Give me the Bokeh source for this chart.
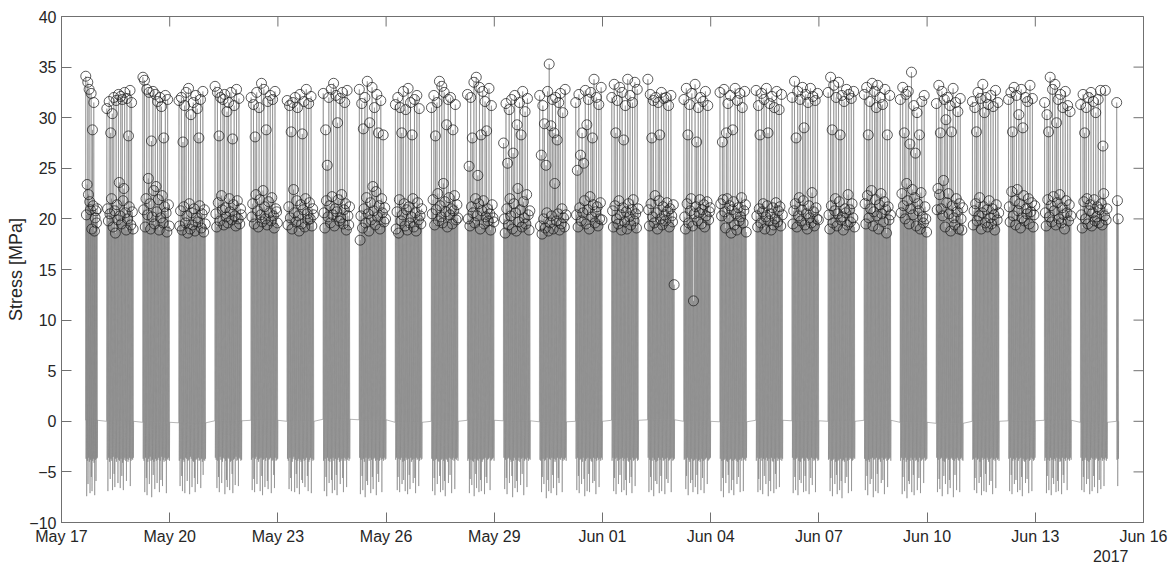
import math
import pandas as pd
from bokeh.plotting import figure
from bokeh.models import ColumnDataSource, FixedTicker, Range1d, Title, DatetimeTickFormatter
from bokeh.embed import file_html
from bokeh.resources import INLINE

# ---------------- data ----------------
DAYS = ["2017-05-17", "2017-05-18", "2017-05-19", "2017-05-20", "2017-05-21", "2017-05-22",
        "2017-05-23", "2017-05-24", "2017-05-25", "2017-05-26", "2017-05-27", "2017-05-28",
        "2017-05-29", "2017-05-30", "2017-05-31", "2017-06-01", "2017-06-02", "2017-06-03",
        "2017-06-04", "2017-06-05", "2017-06-06", "2017-06-07", "2017-06-08", "2017-06-09",
        "2017-06-10", "2017-06-11", "2017-06-12", "2017-06-13", "2017-06-14", "2017-06-15"]
START_H = [16.0, 6.0, 6.0, 6.0, 6.0, 6.0, 6.0, 6.0, 6.0, 6.0, 6.0, 6.0, 6.0, 6.0, 6.0,
           6.0, 6.0, 6.0, 6.0, 6.0, 6.0, 6.0, 6.0, 6.0, 6.0, 6.0, 6.0, 6.0, 6.0, 6.0]
END_H = [24.0, 24.0, 24.0, 24.0, 24.0, 24.0, 24.0, 24.0, 24.0, 24.0, 24.0, 24.0, 24.0, 24.0, 24.0,
         24.0, 24.0, 24.0, 24.0, 24.0, 24.0, 24.0, 24.0, 24.0, 24.0, 24.0, 24.0, 24.0, 24.0, 7.5]
REST = [0.1, 0.0, -0.1, -0.15, 0.05, 0.1, 0.0, 0.2, 0.15, -0.1, 0.0, 0.1, 0.05, -0.05, 0.0,
        0.1, 0.15, 0.0, -0.05, 0.1, 0.05, 0.0, 0.1, -0.1, -0.2, 0.0, 0.05, 0.1, -0.1, 0.0]

PEAKS = [
    [34.1, 20.4, 23.4, 33.5, 22.4, 32.8, 21.7, 20.9, 32.4, 19.0, 28.8, 21.3, 31.5, 18.8, 20.1, 20.8, 19.6, 21.0],
    [30.9, 21.0, 19.8, 31.6, 20.5, 28.5, 22.0, 30.4, 19.2, 32.0, 20.8, 18.6, 31.7, 21.4, 19.9, 32.3, 23.6, 20.3, 32.1, 19.5, 31.8, 21.8, 23.0, 32.5, 20.6, 18.9, 31.9, 20.0, 28.2, 21.2, 32.7, 19.4, 31.5, 20.7, 19.0],
    [34.0, 20.9, 33.7, 19.2, 22.0, 32.8, 20.4, 24.0, 32.5, 21.5, 19.0, 27.7, 20.2, 32.6, 22.8, 19.5, 32.3, 23.2, 20.7, 31.6, 21.9, 18.9, 32.0, 20.1, 31.1, 22.3, 19.6, 28.0, 21.2, 32.2, 20.6, 18.7, 31.8, 21.4, 19.3],
    [31.7, 19.3, 20.8, 32.0, 18.9, 27.6, 21.2, 31.2, 19.6, 32.5, 20.3, 18.6, 32.9, 21.5, 19.0, 30.3, 20.6, 19.4, 31.5, 21.0, 18.8, 32.2, 20.1, 30.9, 19.7, 28.0, 21.3, 31.8, 19.1, 20.5, 32.6, 18.7, 20.9, 19.5],
    [33.1, 20.5, 19.2, 32.5, 21.6, 28.2, 19.8, 32.0, 22.3, 20.9, 31.8, 19.4, 32.3, 21.1, 20.2, 30.6, 19.6, 31.5, 22.0, 20.7, 32.5, 19.9, 27.9, 21.4, 31.2, 20.3, 19.3, 32.8, 21.8, 20.0, 31.9, 19.5, 21.0, 20.4],
    [32.0, 20.2, 21.5, 31.3, 19.5, 28.1, 22.4, 32.5, 20.8, 19.2, 31.0, 21.9, 20.4, 33.4, 19.7, 22.8, 32.8, 21.2, 20.0, 28.8, 19.4, 31.6, 21.7, 20.6, 32.2, 19.8, 22.1, 31.8, 20.3, 19.1, 32.6, 21.0, 20.7, 19.6],
    [31.7, 19.4, 21.2, 31.2, 20.1, 28.6, 19.0, 31.5, 22.9, 20.6, 32.0, 19.7, 21.8, 31.0, 20.3, 18.8, 32.3, 21.4, 19.5, 28.4, 20.9, 31.6, 19.2, 22.0, 32.8, 20.5, 19.9, 31.4, 21.6, 20.0, 32.1, 19.3, 21.0, 20.4],
    [32.4, 20.6, 19.1, 28.8, 21.8, 25.3, 20.2, 32.0, 21.3, 19.6, 32.8, 22.2, 20.4, 33.4, 19.3, 21.0, 32.2, 20.7, 29.5, 21.9, 19.8, 31.9, 20.1, 22.4, 32.5, 19.5, 20.9, 31.5, 21.5, 18.9, 32.7, 20.3, 19.4, 21.2],
    [32.8, 17.9, 20.3, 31.4, 19.1, 28.9, 21.0, 32.0, 19.6, 22.1, 33.6, 20.5, 18.8, 29.5, 21.6, 19.9, 33.0, 23.2, 20.8, 31.0, 19.4, 22.7, 32.3, 20.2, 28.5, 21.3, 19.0, 31.7, 22.0, 20.6, 28.3, 19.7, 21.1, 20.0],
    [31.3, 19.0, 20.7, 32.0, 18.6, 21.9, 31.0, 19.8, 28.5, 20.4, 32.6, 21.5, 19.3, 30.8, 20.9, 18.9, 32.9, 21.2, 19.6, 31.5, 20.2, 28.3, 22.0, 19.2, 31.8, 20.6, 18.8, 32.2, 21.6, 19.9, 30.9, 20.3, 19.5, 21.0],
    [31.0, 20.5, 21.9, 32.2, 19.4, 28.2, 20.9, 31.5, 22.5, 19.8, 33.6, 21.3, 20.2, 33.1, 19.6, 23.5, 32.5, 21.7, 20.7, 29.3, 19.2, 31.8, 22.1, 20.4, 32.0, 21.0, 19.5, 28.8, 20.8, 22.3, 31.3, 19.9, 21.4, 20.1],
    [32.3, 20.0, 25.2, 19.3, 32.0, 21.2, 28.0, 20.6, 33.5, 19.6, 22.0, 34.0, 20.3, 24.3, 21.5, 33.0, 19.0, 28.3, 20.8, 32.6, 21.8, 19.5, 31.6, 20.2, 28.7, 21.0, 19.8, 32.9, 20.5, 18.9, 31.2, 21.4, 20.1, 19.7],
    [27.5, 20.0, 18.6, 31.4, 21.0, 25.5, 19.4, 30.8, 22.0, 20.3, 31.8, 19.0, 26.5, 21.5, 32.2, 20.6, 18.8, 29.3, 23.0, 19.7, 31.5, 20.9, 28.3, 19.2, 32.6, 21.7, 20.1, 30.6, 19.5, 22.4, 31.9, 20.4, 18.9, 20.8],
    [32.2, 19.3, 26.3, 18.5, 31.2, 20.0, 29.4, 19.1, 25.3, 20.6, 32.6, 18.8, 35.3, 19.6, 29.2, 20.3, 31.8, 19.0, 28.5, 23.5, 32.0, 19.8, 27.8, 20.5, 31.5, 18.9, 32.4, 19.5, 21.0, 30.5, 20.1, 19.2, 32.8, 20.4],
    [31.5, 20.4, 24.8, 19.2, 32.3, 21.1, 26.3, 19.8, 28.5, 20.6, 25.5, 21.8, 32.7, 19.5, 29.3, 20.9, 31.8, 19.0, 22.2, 32.5, 20.2, 28.0, 21.4, 33.8, 19.6, 20.7, 32.0, 21.2, 19.3, 31.3, 20.0, 21.6, 33.0, 19.9],
    [32.0, 20.8, 19.2, 33.3, 21.3, 28.5, 20.0, 31.7, 19.5, 21.8, 33.0, 20.4, 18.9, 32.5, 21.1, 27.8, 19.7, 31.2, 20.7, 19.0, 33.8, 21.5, 20.2, 32.2, 19.4, 20.9, 31.5, 21.9, 19.8, 33.5, 20.5, 19.1, 32.8, 21.0],
    [33.8, 20.9, 19.3, 32.3, 21.5, 28.0, 20.2, 31.7, 19.6, 22.3, 32.0, 20.6, 19.0, 31.5, 21.8, 28.3, 20.0, 32.5, 19.4, 21.2, 31.9, 20.4, 19.8, 32.0, 21.6, 20.8, 31.2, 19.2, 21.0, 32.2, 20.3, 19.7, 21.4, 13.5],
    [31.8, 20.2, 19.0, 32.9, 21.5, 28.3, 19.6, 31.3, 20.8, 22.0, 32.4, 19.3, 11.9, 20.5, 33.3, 21.2, 27.6, 19.8, 31.0, 20.6, 21.9, 32.0, 19.5, 20.9, 31.6, 21.4, 19.2, 32.6, 20.3, 21.7, 31.2, 19.9, 20.7, 21.1],
    [32.5, 21.5, 20.3, 27.6, 21.9, 32.8, 20.7, 19.1, 28.5, 22.0, 31.4, 20.1, 21.3, 32.2, 18.6, 20.9, 28.8, 21.7, 19.4, 32.9, 20.5, 18.9, 31.7, 21.1, 19.8, 32.4, 20.2, 22.1, 31.0, 19.6, 20.8, 32.6, 21.4, 18.7],
    [32.7, 20.3, 19.2, 31.2, 21.0, 28.3, 19.6, 32.4, 20.7, 21.5, 31.8, 19.0, 20.2, 32.9, 21.3, 28.5, 19.8, 31.4, 20.5, 18.9, 32.1, 21.1, 19.4, 31.0, 20.0, 21.6, 32.6, 19.7, 20.8, 30.8, 21.2, 19.3, 32.3, 20.4],
    [32.0, 19.5, 20.8, 33.6, 21.5, 28.0, 19.2, 32.6, 20.3, 22.1, 31.8, 19.8, 20.9, 33.0, 21.8, 29.0, 19.4, 32.3, 20.5, 19.0, 31.5, 21.3, 20.1, 32.9, 19.6, 22.6, 32.1, 20.7, 19.3, 31.7, 21.1, 20.0, 32.4, 19.9],
    [32.5, 20.4, 19.0, 34.0, 21.3, 28.8, 19.6, 33.2, 20.8, 22.0, 32.0, 19.3, 20.5, 33.5, 21.7, 28.3, 19.9, 32.2, 20.2, 18.9, 31.6, 21.0, 20.6, 32.8, 19.4, 22.4, 32.3, 20.9, 19.7, 31.9, 21.5, 20.1, 32.6, 19.2],
    [32.3, 21.5, 19.5, 33.0, 22.3, 28.3, 20.1, 31.6, 21.0, 22.8, 33.4, 19.3, 20.7, 32.6, 21.9, 31.0, 20.3, 33.2, 19.0, 21.4, 32.0, 22.5, 20.5, 31.3, 19.7, 21.7, 32.8, 20.9, 18.6, 28.3, 21.2, 19.9, 32.2, 20.4],
    [31.8, 20.6, 22.5, 33.0, 21.3, 28.5, 20.0, 32.3, 23.5, 21.8, 32.6, 19.5, 27.4, 21.0, 34.5, 22.9, 20.4, 31.2, 22.1, 26.5, 19.3, 30.5, 21.5, 20.8, 28.3, 19.0, 22.6, 31.6, 20.2, 19.6, 32.2, 21.2, 20.0, 18.7],
    [31.4, 20.9, 23.0, 33.2, 22.4, 28.5, 21.0, 32.6, 20.3, 23.8, 31.8, 19.2, 29.8, 21.6, 32.0, 22.5, 20.5, 31.2, 18.8, 28.6, 21.3, 32.9, 20.1, 19.4, 31.5, 22.0, 20.7, 30.6, 19.0, 21.5, 31.9, 20.0, 18.9, 21.1],
    [31.6, 19.4, 20.8, 31.0, 21.5, 28.6, 19.8, 32.5, 20.3, 22.1, 31.9, 19.0, 20.6, 33.3, 21.2, 30.5, 19.6, 32.0, 20.9, 19.2, 31.3, 21.8, 20.1, 32.2, 19.5, 21.0, 31.1, 20.4, 18.9, 32.7, 21.4, 19.9, 31.5, 20.6],
    [31.8, 21.2, 19.7, 32.5, 22.7, 28.6, 20.3, 33.0, 21.8, 19.4, 32.2, 22.9, 20.8, 30.3, 21.5, 19.1, 32.8, 20.1, 29.0, 22.3, 19.8, 32.0, 21.0, 20.5, 31.6, 22.0, 19.5, 33.2, 20.7, 21.6, 31.9, 19.2, 20.4, 21.3],
    [31.5, 20.6, 19.3, 30.3, 21.9, 28.6, 20.2, 34.0, 21.3, 19.7, 32.8, 22.2, 20.8, 33.3, 19.4, 29.5, 21.6, 31.8, 20.0, 22.4, 32.3, 19.6, 21.1, 31.0, 20.4, 19.0, 32.6, 21.8, 20.6, 31.2, 19.8, 21.4, 30.6, 20.3],
    [31.3, 20.4, 19.1, 32.3, 21.7, 28.5, 20.0, 31.0, 22.0, 19.5, 32.0, 20.8, 21.4, 32.5, 19.3, 20.6, 31.6, 21.9, 19.8, 30.5, 20.2, 21.2, 31.8, 19.6, 20.9, 32.7, 21.5, 19.4, 27.2, 22.5, 20.3, 32.7, 19.9, 21.0],
    [31.5, 21.8, 20.0],
]

TROUGHS = [
    "-3.7 -7.4 -3.9 -6.2 -3.6 -4.0 -7.1 -3.8 -5.5 -6.9 -3.9 -3.7 -4.1 -7.3 -3.8 -5.9 -3.7 -3.6",
    "-3.8 -6.9 -3.6 -4.0 -5.7 -3.7 -3.9 -6.8 -3.5 -5.2 -6.5 -3.7 -4.0 -3.6 -6.1 -3.8 -3.9 -6.6 -3.7 -5.4 -4.1 -6.8 -3.8 -3.6 -3.9 -5.9 -3.7 -4.0 -3.8 -3.6 -6.4 -3.9 -3.7 -3.8 -3.6 -3.9",
    "-3.7 -3.9 -7.0 -3.6 -5.6 -7.3 -4.0 -3.7 -6.2 -3.5 -3.9 -7.5 -3.8 -5.3 -4.0 -6.7 -3.7 -3.9 -6.1 -3.8 -3.6 -7.0 -3.9 -5.8 -3.5 -6.4 -3.8 -4.0 -3.6 -3.9 -7.1 -3.7 -3.8 -3.6 -3.9 -3.7",
    "-3.9 -6.4 -3.7 -5.4 -6.9 -3.8 -4.0 -7.1 -3.6 -3.7 -5.9 -3.9 -3.8 -7.2 -3.5 -3.7 -6.5 -3.9 -4.0 -5.6 -7.0 -3.8 -3.7 -6.2 -3.6 -3.9 -3.8 -6.6 -3.7 -4.0 -5.3 -3.8 -3.9 -3.7 -3.6 -3.8",
    "-3.6 -3.8 -6.6 -3.9 -5.5 -7.0 -3.5 -3.8 -6.1 -4.0 -3.6 -3.7 -7.2 -3.9 -5.8 -6.5 -3.6 -3.7 -6.8 -4.0 -3.9 -5.2 -7.1 -3.8 -3.7 -6.3 -3.5 -3.9 -3.8 -6.4 -3.6 -3.7 -3.9 -3.8 -3.6 -3.7",
    "-3.8 -6.8 -3.6 -5.7 -7.0 -3.7 -3.5 -6.2 -3.8 -4.0 -3.7 -6.9 -3.6 -5.4 -7.3 -3.8 -3.7 -6.5 -3.9 -3.6 -5.9 -6.7 -3.8 -3.7 -3.6 -7.1 -3.9 -3.8 -5.3 -6.6 -3.6 -3.9 -3.8 -3.7 -3.6 -3.8",
    "-3.7 -3.9 -6.7 -3.6 -5.6 -6.9 -4.0 -3.7 -3.5 -7.0 -3.8 -5.2 -6.6 -3.9 -3.7 -7.2 -3.8 -4.0 -5.8 -6.1 -3.7 -3.9 -6.5 -3.8 -3.6 -5.4 -6.9 -4.0 -3.8 -3.6 -7.1 -3.7 -3.9 -3.8 -3.6 -3.7",
    "-3.9 -6.9 -3.7 -5.5 -7.4 -3.6 -3.9 -6.1 -4.0 -3.7 -5.8 -7.1 -3.6 -3.9 -6.8 -3.7 -5.3 -7.3 -3.8 -3.6 -4.0 -6.2 -3.9 -3.7 -5.6 -7.0 -3.6 -3.9 -3.7 -6.5 -3.8 -3.6 -3.9 -3.7 -3.8 -3.6",
    "-3.6 -7.2 -3.8 -5.4 -6.8 -3.7 -4.0 -7.5 -3.6 -5.9 -6.3 -3.7 -3.9 -3.6 -7.1 -3.8 -5.5 -6.7 -3.7 -3.6 -3.9 -7.3 -3.8 -5.2 -6.0 -3.9 -3.6 -3.8 -7.0 -3.7 -3.9 -3.6 -3.8 -3.7 -3.9 -3.6",
    "-3.8 -3.6 -6.8 -5.5 -3.7 -7.0 -3.8 -3.6 -6.2 -4.0 -5.8 -3.9 -6.9 -3.6 -3.8 -7.2 -3.7 -5.3 -6.7 -3.6 -4.0 -3.8 -6.1 -3.7 -5.6 -7.1 -3.6 -3.8 -3.7 -6.4 -3.9 -3.6 -3.8 -3.7 -3.6 -3.9",
    "-3.7 -6.9 -3.9 -5.6 -7.3 -3.8 -3.7 -6.2 -3.9 -4.0 -5.4 -7.0 -3.8 -3.7 -6.8 -3.9 -5.9 -7.4 -3.7 -3.8 -4.0 -6.1 -3.6 -5.3 -3.7 -7.1 -3.8 -3.6 -3.9 -6.7 -3.7 -3.8 -3.6 -3.9 -3.7 -3.8",
    "-3.9 -3.7 -7.1 -5.7 -3.8 -6.3 -3.9 -4.0 -7.4 -3.7 -5.2 -6.6 -3.8 -3.9 -7.0 -3.7 -5.8 -6.9 -4.0 -3.8 -3.7 -7.2 -3.6 -5.5 -6.1 -3.8 -3.7 -3.6 -6.8 -3.9 -3.8 -3.7 -3.6 -3.9 -3.8 -3.7",
    "-3.6 -6.7 -3.8 -5.6 -7.2 -3.7 -3.6 -6.1 -3.8 -4.0 -5.4 -7.5 -3.9 -3.6 -6.6 -3.8 -5.9 -7.0 -3.9 -3.6 -4.0 -6.3 -3.7 -5.2 -3.6 -7.3 -3.9 -3.7 -3.8 -6.5 -3.6 -3.9 -3.7 -3.8 -3.6 -3.9",
    "-3.8 -3.9 -7.0 -5.5 -3.7 -6.2 -3.9 -3.8 -7.6 -3.6 -5.8 -6.9 -3.7 -3.8 -7.1 -3.6 -5.3 -6.6 -3.7 -4.0 -3.8 -7.3 -3.6 -5.6 -6.1 -3.7 -3.8 -3.6 -7.0 -3.9 -3.7 -3.8 -3.6 -3.9 -3.7 -3.8",
    "-3.7 -6.8 -3.6 -5.4 -7.1 -3.8 -3.7 -6.2 -4.0 -3.6 -5.7 -7.4 -3.9 -3.7 -6.9 -3.6 -5.2 -7.0 -3.7 -3.9 -4.0 -6.1 -3.6 -5.9 -3.7 -7.2 -3.9 -3.6 -3.8 -6.5 -3.7 -3.9 -3.6 -3.8 -3.7 -3.6",
    "-3.9 -3.6 -6.9 -5.6 -3.7 -7.2 -3.6 -3.9 -6.2 -3.8 -5.3 -3.7 -7.0 -3.6 -3.9 -6.8 -3.7 -5.8 -7.3 -3.6 -3.9 -4.0 -6.1 -3.8 -5.5 -7.1 -3.6 -3.9 -3.8 -6.4 -3.7 -3.6 -3.9 -3.8 -3.7 -3.6",
    "-3.6 -7.0 -3.8 -5.5 -6.8 -3.9 -3.6 -7.4 -3.8 -5.9 -4.0 -6.2 -3.9 -3.6 -7.1 -3.8 -5.4 -6.9 -3.6 -3.9 -3.8 -7.2 -3.7 -5.7 -3.6 -6.1 -3.9 -3.8 -3.7 -7.0 -3.6 -3.9 -3.8 -3.7 -3.6 -3.8",
    "-3.8 -3.7 -6.7 -5.4 -3.6 -7.3 -3.8 -4.0 -6.1 -3.7 -5.8 -7.0 -3.9 -3.8 -6.5 -3.7 -5.3 -7.2 -3.9 -3.8 -4.0 -6.8 -3.7 -5.6 -3.9 -7.1 -3.8 -3.7 -3.6 -6.2 -3.9 -3.8 -3.7 -3.6 -3.9 -3.7",
    "-3.7 -6.9 -3.9 -5.6 -7.5 -3.8 -3.7 -6.1 -3.9 -4.0 -5.3 -7.1 -3.8 -3.7 -6.8 -3.9 -5.8 -7.3 -3.8 -3.7 -3.9 -6.2 -4.0 -5.5 -3.8 -7.0 -3.7 -3.9 -3.6 -6.9 -3.8 -3.7 -3.9 -3.6 -3.8 -3.7",
    "-3.9 -3.6 -7.0 -5.7 -3.7 -6.8 -3.6 -3.9 -7.2 -3.7 -5.4 -3.8 -6.2 -3.6 -3.9 -7.4 -3.7 -5.9 -6.9 -3.6 -3.9 -4.0 -7.1 -3.7 -5.2 -6.7 -3.6 -3.9 -3.7 -6.5 -3.8 -3.6 -3.9 -3.7 -3.8 -3.6",
    "-3.6 -7.1 -3.8 -5.5 -6.8 -3.7 -3.6 -7.3 -3.9 -5.8 -4.0 -6.1 -3.7 -3.6 -7.0 -3.9 -5.4 -6.9 -3.6 -3.7 -3.9 -7.2 -3.8 -5.6 -3.6 -6.3 -3.7 -3.9 -3.8 -7.0 -3.6 -3.7 -3.9 -3.8 -3.6 -3.7",
    "-3.8 -3.7 -6.9 -5.6 -3.9 -7.4 -3.8 -3.7 -6.2 -4.0 -5.3 -7.2 -3.9 -3.8 -6.8 -3.7 -5.9 -7.6 -3.9 -3.8 -4.0 -6.1 -3.6 -5.5 -3.9 -7.1 -3.8 -3.6 -3.7 -6.9 -3.9 -3.8 -3.6 -3.7 -3.9 -3.8",
    "-3.7 -6.8 -3.9 -5.4 -7.3 -3.8 -4.0 -6.2 -3.7 -5.7 -3.6 -7.5 -3.8 -3.7 -6.9 -3.6 -5.2 -7.1 -3.8 -3.7 -4.0 -6.1 -3.6 -5.8 -3.8 -7.2 -3.7 -3.6 -3.9 -6.5 -3.8 -3.7 -3.6 -3.9 -3.8 -3.7",
    "-3.9 -3.6 -7.2 -5.5 -3.8 -6.9 -3.6 -4.0 -7.6 -3.8 -5.9 -6.2 -3.9 -3.6 -7.0 -3.8 -5.3 -7.3 -3.6 -3.9 -3.8 -6.8 -4.0 -5.6 -3.6 -7.1 -3.9 -3.8 -3.7 -6.1 -3.6 -3.9 -3.8 -3.7 -3.6 -3.9",
    "-3.6 -7.0 -3.8 -5.7 -6.7 -3.7 -3.6 -7.4 -3.9 -5.4 -4.0 -6.2 -3.7 -3.6 -7.2 -3.8 -5.8 -6.6 -3.7 -3.6 -3.8 -7.5 -3.9 -5.3 -3.7 -6.8 -3.6 -3.8 -3.9 -7.0 -3.7 -3.6 -3.8 -3.9 -3.7 -3.6",
    "-3.8 -3.7 -6.8 -5.6 -3.6 -7.1 -3.8 -3.7 -6.1 -4.0 -5.5 -7.3 -3.6 -3.8 -6.9 -3.7 -5.2 -7.0 -3.6 -3.8 -4.0 -6.3 -3.7 -5.9 -3.6 -7.2 -3.8 -3.7 -3.9 -6.6 -3.6 -3.8 -3.7 -3.9 -3.6 -3.8",
    "-3.7 -6.9 -3.6 -5.3 -7.2 -3.9 -3.7 -6.2 -3.8 -5.8 -3.6 -7.0 -3.9 -3.7 -6.8 -3.6 -5.5 -7.4 -3.7 -3.9 -4.0 -6.1 -3.8 -5.7 -3.7 -7.1 -3.9 -3.8 -3.6 -6.9 -3.7 -3.9 -3.8 -3.6 -3.7 -3.9",
    "-3.9 -3.6 -7.1 -5.4 -3.8 -6.8 -3.9 -3.6 -7.3 -3.8 -5.6 -6.2 -3.7 -3.9 -7.0 -3.6 -5.9 -6.9 -3.7 -4.0 -3.9 -7.2 -3.6 -5.3 -6.1 -3.7 -3.9 -3.6 -6.8 -3.8 -3.7 -3.9 -3.6 -3.8 -3.7 -3.9",
    "-3.6 -6.8 -3.9 -5.5 -7.0 -3.8 -3.6 -6.2 -3.9 -5.7 -4.0 -7.2 -3.8 -3.6 -6.9 -3.7 -5.4 -6.5 -3.8 -3.6 -3.7 -7.1 -3.9 -5.8 -3.8 -6.7 -3.6 -3.9 -3.7 -6.4 -3.8 -3.6 -3.9 -3.7 -3.8 -3.6",
    "-3.8 -6.4 -3.7",
]

X_TICKS = ["2017-05-17", "2017-05-20", "2017-05-23", "2017-05-26", "2017-05-29", "2017-06-01",
           "2017-06-04", "2017-06-07", "2017-06-10", "2017-06-13", "2017-06-16"]
Y_TICKS = [-10, -5, 0, 5, 10, 15, 20, 25, 30, 35, 40]
Y_RANGE = (-10, 40)
YEAR_LABEL = "2017"


def ms(ts):
    return pd.Timestamp(ts).value / 1e6


# ---------------- build the stress trace ----------------
t_line, v_line, t_pk, v_pk = [], [], [], []
for d, day in enumerate(DAYS):
    base = pd.Timestamp(day)
    peaks = PEAKS[d]
    troughs = [float(s) for s in TROUGHS[d].split()]
    n = len(peaks)
    s_h, e_h = START_H[d], END_H[d]
    step = (e_h - s_h) / n
    for i, (pk, tr) in enumerate(zip(peaks, troughs)):
        t0 = s_h + i * step
        for frac, val in ((0.0, REST[d]), (0.35, pk), (0.7, tr), (0.95, REST[d])):
            t_line.append(ms(base + pd.Timedelta(hours=t0 + frac * step)))
            v_line.append(val)
        t_pk.append(ms(base + pd.Timedelta(hours=t0 + 0.35 * step)))
        v_pk.append(pk)

line_src = ColumnDataSource(dict(t=t_line, v=v_line))
pk_src = ColumnDataSource(dict(t=t_pk, v=v_pk))

# ---------------- figure ----------------
AX = "#707070"
TXT = "#262626"
FONT = "Liberation Sans"

x_lo, x_hi = ms(X_TICKS[0]), ms(X_TICKS[-1])
p = figure(width=1173, height=563, x_axis_type="datetime", output_backend="svg",
           toolbar_location=None,
           x_range=Range1d(x_lo, x_hi), y_range=Range1d(*Y_RANGE))
p.min_border_left = 61
p.min_border_right = 30
p.min_border_top = 16
p.min_border_bottom = 41
p.outline_line_color = AX
p.outline_line_width = 1
p.grid.visible = False
p.background_fill_color = "white"
p.border_fill_color = "white"

p.line("t", "v", source=line_src, line_color="#7a7a7a", line_width=0.55)
p.scatter("t", "v", source=pk_src, marker="circle", size=10, fill_color=None,
          line_color="#1a1a1a", line_width=0.8, line_alpha=0.9)

# inward ticks on the top and right edges of the box (half of each dash is clipped by the frame)
xt_ms = [ms(t) for t in X_TICKS]
p.scatter(x=xt_ms, y=[Y_RANGE[1]] * len(xt_ms), marker="dash", size=20, angle=math.pi / 2,
          line_color=AX, line_width=1)
p.scatter(x=[x_hi] * len(Y_TICKS), y=Y_TICKS, marker="dash", size=20,
          line_color=AX, line_width=1)

fmt = DatetimeTickFormatter(days="%b %d", months="%b %d", hours="%b %d", years="%b %d")
p.xaxis.ticker = FixedTicker(ticks=xt_ms)
p.xaxis.formatter = fmt
p.yaxis.ticker = FixedTicker(ticks=Y_TICKS)
p.yaxis.axis_label = "Stress [MPa]"

for ax in [p.xaxis[0], p.yaxis[0]]:
    ax.axis_line_color = AX
    ax.axis_line_width = 1
    ax.major_tick_line_color = AX
    ax.major_tick_in = 10
    ax.major_tick_out = 0
    ax.minor_tick_line_color = None
    ax.major_label_text_font = FONT
    ax.major_label_text_font_size = "16px"
    ax.major_label_text_color = TXT

p.xaxis[0].major_label_standoff = 5
p.yaxis[0].major_label_standoff = 5
p.yaxis[0].axis_label_standoff = 0
p.yaxis[0].axis_label_text_font = FONT
p.yaxis[0].axis_label_text_font_size = "18px"
p.yaxis[0].axis_label_text_font_style = "normal"
p.yaxis[0].axis_label_text_color = TXT

# year under the last date tick (MATLAB style), as a title in the space below the axis
year = Title(text=YEAR_LABEL, align="right", offset=15, standoff=0,
             text_font=FONT, text_font_size="16px", text_font_style="normal",
             text_color=TXT)
p.add_layout(year, "below")

open("out.html", "w").write(file_html(p, INLINE))
